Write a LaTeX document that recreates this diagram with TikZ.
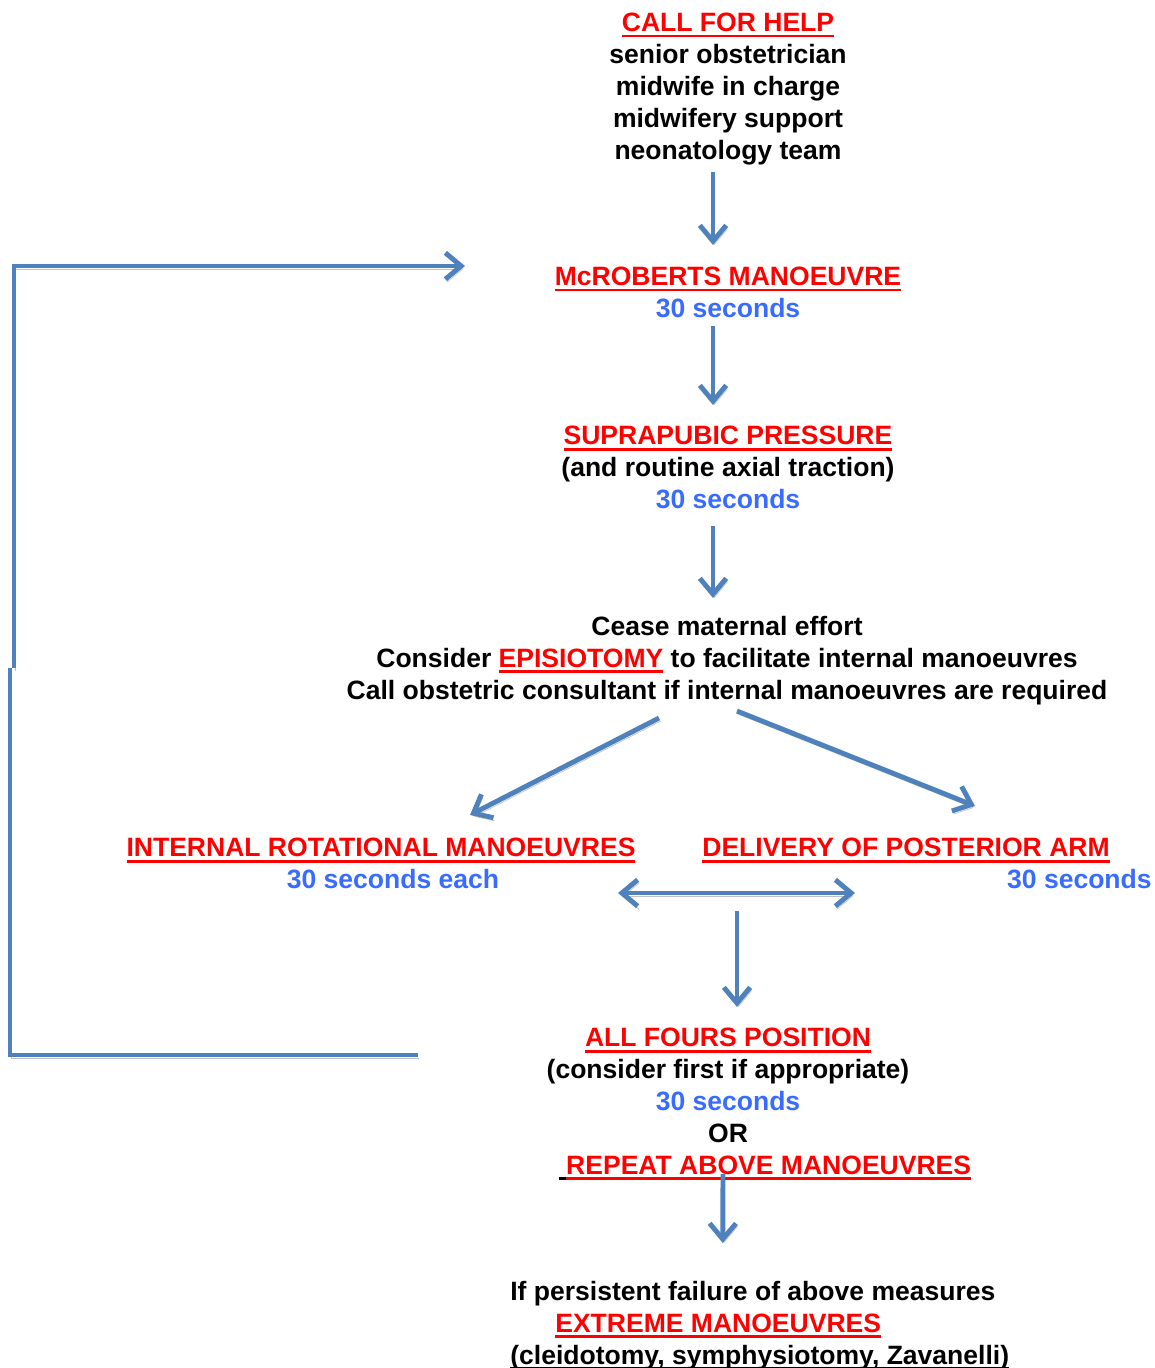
\documentclass[tikz,border=0pt]{standalone}
\usepackage{fontspec}
\setmainfont{Liberation Sans}
\usetikzlibrary{arrows.meta}
\definecolor{alarmred}{rgb}{1.0, 0.0, 0.0}
\definecolor{timeblue}{rgb}{0.22, 0.42, 1.0}
\definecolor{flowblue}{rgb}{0.31, 0.51, 0.74}
\definecolor{shadowgrey}{rgb}{0.76, 0.76, 0.76}
\newcommand{\undl}[1]{\setbox0=\hbox{#1}\rlap{\rule[-3.2pt]{\wd0}{1.6pt}}\box0}
\newcommand{\hd}[1]{{\color{alarmred}\undl{#1}}}
\newcommand{\secs}[1]{{\color{timeblue}#1}}

\begin{document}
\begin{tikzpicture}[x=0.02cm, y=-0.02cm,
    lbl/.style={font=\fontsize{15.1}{18.1}\selectfont\bfseries, align=center, inner sep=0pt, anchor=north},
    flow/.style={draw=flowblue, line width=2.8pt, line cap=butt,
        -{Straight Barb[length=9pt, width=15pt]},
        preaction={draw=shadowgrey, transform canvas={xshift=0.8pt, yshift=-1.8pt}}},
    loopline/.style={draw=flowblue, line width=2.8pt,
        preaction={draw=shadowgrey, transform canvas={xshift=0.8pt, yshift=-1.8pt}}}]
    \useasboundingbox (0,0) rectangle (1155,1368);

    \node[lbl] (help) at (728,13) {\hd{CALL FOR HELP}\\ senior obstetrician\\ midwife in charge\\ midwifery support\\ neonatology team};
    \node[lbl] (mcr) at (728,267) {\hd{McROBERTS MANOEUVRE}\\ \secs{30 seconds}};
    \node[lbl] (supra) at (728,426) {\hd{SUPRAPUBIC PRESSURE}\\ (and routine axial traction)\\ \secs{30 seconds}};
    \node[lbl] (cease) at (727,616) {Cease maternal effort\\ Consider \hd{EPISIOTOMY} to facilitate internal manoeuvres\\ Call obstetric consultant if internal manoeuvres are required};
    \node[lbl] (rot) at (381,838) {\hd{INTERNAL ROTATIONAL MANOEUVRES}};
    \node[lbl] (rottime) at (393,869) {\secs{30 seconds each}};
    \node[lbl] (post) at (906,838) {\hd{DELIVERY OF POSTERIOR ARM}};
    \node[lbl, anchor=north east] (posttime) at (1152,869) {\secs{30 seconds}};
    \node[lbl] (fours) at (728,1028) {\hd{ALL FOURS POSITION}\\ (consider first if appropriate)\\ \secs{30 seconds}\\ OR\\ \hspace*{14.8mm}\undl{\ }\hd{REPEAT ABOVE MANOEUVRES}};
    \node[lbl, align=left, anchor=north west] (extreme) at (510,1281) {If persistent failure of above measures\\ \hspace*{9mm}\hd{EXTREME MANOEUVRES}\\ \undl{(cleidotomy, symphysiotomy, Zavanelli)}};

    \coordinate (swapl) at (618,893);
    \coordinate (swapr) at (855,893);
    \coordinate (split) at (737,911);
    \coordinate (back) at (418,1055);
    \coordinate (retry) at (465,266);

    \draw[flow] ([shift={(-15,7)}]help.south) -- ([shift={(-15,-22)}]mcr.north);
    \draw[flow] ([shift={(-15,8)}]mcr.south) -- ([shift={(-15,-21)}]supra.north);
    \draw[flow] ([shift={(-15,17)}]supra.south) -- ([shift={(-14,-18)}]cease.north);
    \draw[flow] ([shift={(-68,13)}]cease.south) -- ([shift={(89,-23)}]rot.north);
    \draw[flow] ([shift={(10,6)}]cease.south) -- ([shift={(69,-32)}]post.north);
    \draw[flow, {Straight Barb[length=9pt, width=15pt]}-{Straight Barb[length=9pt, width=15pt]}] (swapl) -- (swapr);
    \draw[flow] (split) -- ([shift={(9,-21)}]fours.north);
    \draw[flow] ([shift={(-5,-6)}]fours.south) -- ([shift={(-37,-38)}]extreme.north);

    % back to McRoberts
    \draw[loopline] (back) -| (10,668);
    \draw[flow] (14,668) |- (retry);
\end{tikzpicture}
\end{document}
